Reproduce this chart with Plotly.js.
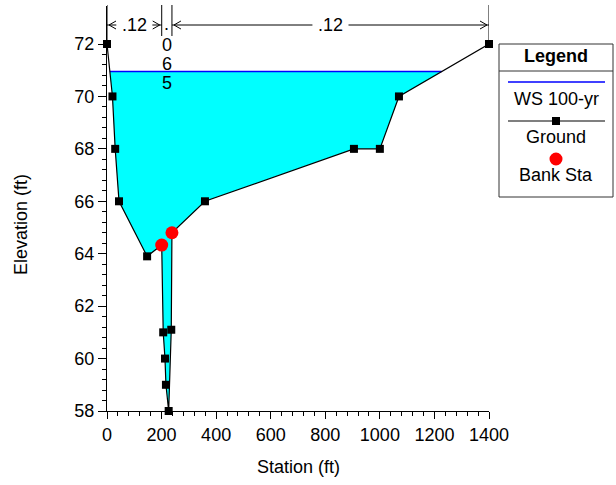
<!DOCTYPE html>
<html>
<head>
<meta charset="utf-8">
<script src="https://cdn.plot.ly/plotly-3.0.1.min.js"></script>
<style>
  html, body { margin: 0; padding: 0; background: #fff; }
  #chart { width: 616px; height: 485px; }
</style>
</head>
<body>
<div id="chart"></div>
<script>
// Cross-section ground geometry (station ft, elevation ft)
const STATION   = [0, 20, 30, 44, 147, 200.5, 206, 212.5, 216, 226, 235.5, 238, 359, 905, 1000, 1070, 1400];
const ELEVATION = [72, 70, 68, 66, 63.9, 64.33, 61, 60, 59, 58, 61.1, 64.8, 66, 68, 68, 70, 72];

// Bank stations (left, right)
const BANK_STA = [200.5, 238];

// Water surface for the 100-yr profile
const WS_LABEL = 'WS 100-yr';
const WS_ELEV = 70.95;

// Manning's n regions: boundaries and values
const N_BOUNDS = [0, 200.5, 238, 1400];
const N_VALUES = ['.12', '.065', '.12'];

// Axis ticks
const X_TICKS = [0, 200, 400, 600, 800, 1000, 1200, 1400];
const Y_TICKS = [58, 60, 62, 64, 66, 68, 70, 72];

// ---- layout geometry (pixels) ----
const W = 616, H = 485;
const PL = 107, PR = 489, PT = 6, PB = 411;
const PW = PR - PL, PH = PB - PT;
const Y_MIN = 58;
const Y_MAX = 72 + (44 - PT) / ((PB - 44) / 14);
const X_MIN = 0, X_MAX = 1400;
const FONT = 'Liberation Sans, Arial, sans-serif';
const FS = 18;

const px2paperX = p => (p - PL) / PW;
const px2paperY = p => (PB - p) / PH;
const ftPerPx = (X_MAX - X_MIN) / PW;

function groundAt(s) {
  for (let i = 0; i < STATION.length - 1; i++) {
    if (s >= STATION[i] && s <= STATION[i + 1]) {
      const t = (s - STATION[i]) / (STATION[i + 1] - STATION[i] || 1);
      return ELEVATION[i] + t * (ELEVATION[i + 1] - ELEVATION[i]);
    }
  }
  return ELEVATION[ELEVATION.length - 1];
}

// Water polygon: ground below the WS, closed by the water surface
function waterPolygon(ws) {
  const xs = [], ys = [];
  let left = null, right = null;
  for (let i = 0; i < STATION.length - 1; i++) {
    const e0 = ELEVATION[i], e1 = ELEVATION[i + 1];
    if ((e0 - ws) * (e1 - ws) < 0) {
      const xc = STATION[i] + (ws - e0) / (e1 - e0) * (STATION[i + 1] - STATION[i]);
      if (left === null) left = xc; else right = xc;
    }
  }
  xs.push(left); ys.push(ws);
  for (let i = 0; i < STATION.length; i++) {
    if (STATION[i] > left && STATION[i] < right) { xs.push(STATION[i]); ys.push(ELEVATION[i]); }
  }
  xs.push(right); ys.push(ws);
  xs.push(left); ys.push(ws);
  return { xs, ys, left, right };
}

const water = waterPolygon(WS_ELEV);
const bankElev = BANK_STA.map(groundAt);

const traces = [
  { x: water.xs, y: water.ys, mode: 'lines', fill: 'toself', fillcolor: '#00FFFF',
    line: { width: 0, color: 'rgba(0,0,0,0)' }, hoverinfo: 'skip', showlegend: false },
  { x: [water.left, water.right], y: [WS_ELEV, WS_ELEV], mode: 'lines', name: WS_LABEL,
    line: { color: '#0000FF', width: 1.5 }, showlegend: false },
  { x: STATION, y: ELEVATION, mode: 'lines+markers', name: 'Ground', cliponaxis: false,
    line: { color: '#000000', width: 1.2 },
    marker: { symbol: 'square', size: 8, color: '#000000' }, showlegend: false },
  { x: BANK_STA, y: bankElev, mode: 'markers', name: 'Bank Sta', cliponaxis: false,
    marker: { symbol: 'circle', size: 13, color: '#FF0000' }, showlegend: false }
];

const shapes = [];
const annotations = [];

// Manning's n region markers along the top
const ARROW_Y = px2paperY(25);
const LINE_TOP = px2paperY(5);
N_BOUNDS.forEach((b, i) => {
  let y1;
  if (i === 0 || i === N_BOUNDS.length - 1) y1 = (groundAt(b) - Y_MIN) / (Y_MAX - Y_MIN);
  else y1 = px2paperY(36);
  shapes.push({ type: 'line', xref: 'x', yref: 'paper', x0: b, x1: b, y0: LINE_TOP, y1: y1,
    line: { color: '#000', width: 1 } });
});

N_VALUES.forEach((n, i) => {
  const a = N_BOUNDS[i], b = N_BOUNDS[i + 1];
  const mid = (a + b) / 2;
  const widthPx = (b - a) / ftPerPx;
  const textHalf = n.length * 0.52 * FS / 2;
  if (widthPx > 2 * textHalf + 16) {
    annotations.push({ x: mid, y: ARROW_Y, xref: 'x', yref: 'paper', text: n, showarrow: false,
      xanchor: 'center', yanchor: 'middle', font: { family: FONT, size: FS, color: '#000' } });
    const gap = (textHalf + 4) * ftPerPx;
    // stems
    shapes.push({ type: 'line', xref: 'x', yref: 'paper', x0: a, x1: mid - gap, y0: ARROW_Y, y1: ARROW_Y,
      line: { color: '#000', width: 1 } });
    shapes.push({ type: 'line', xref: 'x', yref: 'paper', x0: mid + gap, x1: b, y0: ARROW_Y, y1: ARROW_Y,
      line: { color: '#000', width: 1 } });
    // open chevrons at each boundary
    shapes.push({ type: 'path', xref: 'x', yref: 'paper', xsizemode: 'pixel', ysizemode: 'pixel',
      xanchor: a, yanchor: ARROW_Y, path: 'M 9 4 L 2 0 L 9 -4', line: { color: '#000', width: 1 } });
    shapes.push({ type: 'path', xref: 'x', yref: 'paper', xsizemode: 'pixel', ysizemode: 'pixel',
      xanchor: b, yanchor: ARROW_Y, path: 'M -9 4 L -2 0 L -9 -4', line: { color: '#000', width: 1 } });
  } else {
    // narrow region: stack the characters vertically
    n.split('').forEach((ch, k) => {
      const cy = ch === '.' ? 24 : 45 + (k - 1) * 19;
      annotations.push({ x: mid, y: px2paperY(cy), xref: 'x', yref: 'paper', text: ch, showarrow: false,
        xanchor: 'center', yanchor: 'middle', font: { family: FONT, size: FS, color: '#000' } });
    });
  }
});

// Axis titles
annotations.push({ x: px2paperX(21), y: px2paperY(225), xref: 'paper', yref: 'paper', text: 'Elevation (ft)',
  textangle: -90, showarrow: false, xanchor: 'center', yanchor: 'middle',
  font: { family: FONT, size: FS, color: '#000' } });
annotations.push({ x: px2paperX(298), y: px2paperY(467), xref: 'paper', yref: 'paper', text: 'Station (ft)',
  showarrow: false, xanchor: 'center', yanchor: 'middle',
  font: { family: FONT, size: FS, color: '#000' } });

// Legend box
const LG = { l: 499, r: 613, t: 44, b: 197, cx: 556 };
shapes.push({ type: 'rect', xref: 'paper', yref: 'paper',
  x0: px2paperX(LG.l), x1: px2paperX(LG.r), y0: px2paperY(LG.b), y1: px2paperY(LG.t),
  line: { color: '#333', width: 1 }, fillcolor: '#fff' });
shapes.push({ type: 'line', xref: 'paper', yref: 'paper',
  x0: px2paperX(LG.l), x1: px2paperX(LG.r), y0: px2paperY(71), y1: px2paperY(71),
  line: { color: '#333', width: 1 } });
annotations.push({ x: px2paperX(LG.cx), y: px2paperY(56), xref: 'paper', yref: 'paper', text: '<b>Legend</b>',
  showarrow: false, xanchor: 'center', yanchor: 'middle', font: { family: FONT, size: FS, color: '#000' } });
// WS entry
shapes.push({ type: 'line', xref: 'paper', yref: 'paper',
  x0: px2paperX(508), x1: px2paperX(605), y0: px2paperY(82), y1: px2paperY(82),
  line: { color: '#0000FF', width: 1.5 } });
annotations.push({ x: px2paperX(LG.cx), y: px2paperY(99), xref: 'paper', yref: 'paper', text: WS_LABEL,
  showarrow: false, xanchor: 'center', yanchor: 'middle', font: { family: FONT, size: FS, color: '#000' } });
// Ground entry
shapes.push({ type: 'line', xref: 'paper', yref: 'paper',
  x0: px2paperX(508), x1: px2paperX(605), y0: px2paperY(121), y1: px2paperY(121),
  line: { color: '#000', width: 1.2 } });
shapes.push({ type: 'rect', xref: 'paper', yref: 'paper',
  x0: px2paperX(LG.cx - 4), x1: px2paperX(LG.cx + 4), y0: px2paperY(125), y1: px2paperY(117),
  line: { width: 0 }, fillcolor: '#000' });
annotations.push({ x: px2paperX(LG.cx), y: px2paperY(137), xref: 'paper', yref: 'paper', text: 'Ground',
  showarrow: false, xanchor: 'center', yanchor: 'middle', font: { family: FONT, size: FS, color: '#000' } });
// Bank Sta entry
shapes.push({ type: 'circle', xref: 'paper', yref: 'paper',
  x0: px2paperX(LG.cx - 6.5), x1: px2paperX(LG.cx + 6.5), y0: px2paperY(165.5), y1: px2paperY(152.5),
  line: { width: 0 }, fillcolor: '#FF0000' });
annotations.push({ x: px2paperX(LG.cx), y: px2paperY(175), xref: 'paper', yref: 'paper', text: 'Bank Sta',
  showarrow: false, xanchor: 'center', yanchor: 'middle', font: { family: FONT, size: FS, color: '#000' } });

const layout = {
  width: W, height: H,
  margin: { l: PL, r: W - PR, t: PT, b: H - PB, pad: 0 },
  paper_bgcolor: '#fff', plot_bgcolor: '#fff',
  showlegend: false,
  font: { family: FONT, size: FS, color: '#000' },
  xaxis: {
    range: [X_MIN, X_MAX], tickmode: 'array', tickvals: X_TICKS,
    ticks: 'outside', ticklen: 7, tickwidth: 1, tickcolor: '#000',
    showline: true, linecolor: '#000', linewidth: 1,
    showgrid: false, zeroline: false,
    tickfont: { family: FONT, size: FS, color: '#000' },
    minor: { tickmode: 'linear', tick0: 0, dtick: 40, ticks: 'outside', ticklen: 4, tickcolor: '#000', tickwidth: 1 }
  },
  yaxis: {
    range: [Y_MIN, Y_MAX], tickmode: 'array', tickvals: Y_TICKS,
    ticks: 'outside', ticklen: 8, tickwidth: 1, tickcolor: '#000',
    showline: true, linecolor: '#000', linewidth: 1,
    showgrid: false, zeroline: false,
    tickfont: { family: FONT, size: FS, color: '#000' },
    minor: { tickmode: 'array',
      tickvals: Array.from({ length: 36 }, (_, k) => +(58 + k * 0.4).toFixed(1)).filter(v => v < 72.05 && Y_TICKS.indexOf(v) < 0),
      ticks: 'outside', ticklen: 4, tickcolor: '#000', tickwidth: 1 }
  },
  shapes: shapes,
  annotations: annotations
};

Plotly.newPlot('chart', traces, layout, { staticPlot: true, displayModeBar: false });
</script>
</body>
</html>
